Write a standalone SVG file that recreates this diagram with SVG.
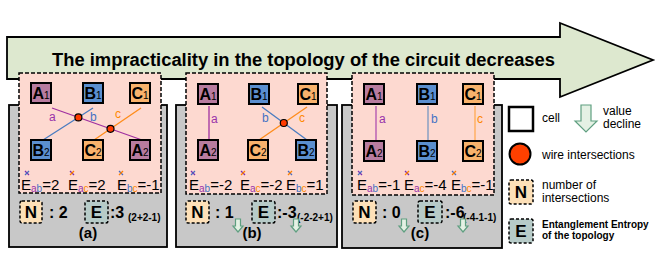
<svg xmlns="http://www.w3.org/2000/svg" width="657" height="264" viewBox="0 0 657 264">
<style>
text{font-family:"Liberation Sans",Arial,sans-serif;fill:#000}
.gray{fill:#c8c8c8;stroke:#000;stroke-width:1.8}
.pink{fill:#fdd9d0;stroke:#000;stroke-width:1.5;stroke-dasharray:4 2}
.cell{stroke:#000;stroke-width:2}
.A{fill:#b87c9f}.B{fill:#5b8fcf}.C{fill:#f8b26c}
.cl{font-size:16px;font-weight:bold;text-anchor:middle}
.cl tspan{font-size:10px;font-weight:normal}
.wa{stroke:#a030a0;stroke-width:1.3}.wb{stroke:#4a7cc0;stroke-width:1.3}.wc{stroke:#ff8c1a;stroke-width:1.3}
.dot{fill:#ff3b00;stroke:#000;stroke-width:1.2}
.wl{font-size:12px}
.e{font-size:15px}
.e tspan.s{font-size:10px}
.ca{fill:#9933aa}.cb{fill:#4472c4}.cc{fill:#ff8800}
.xa{stroke:#7a30b0;stroke-width:1.2}.xb{stroke:#4a6cc0;stroke-width:1.2}.xc{stroke:#ff8000;stroke-width:1.2}
.nb{fill:#fde0b8;stroke:#000;stroke-width:1.5;stroke-dasharray:3 2}
.eb{fill:#b7cbc8;stroke:#000;stroke-width:1.5;stroke-dasharray:3 2}
.bl{font-size:17px;font-weight:bold;text-anchor:middle}
.val{font-size:16px;font-weight:bold}
.sm{font-size:10px;font-weight:bold}
.lab{font-size:15px;font-weight:bold;text-anchor:middle}
.dn{fill:#e4f1e4;stroke:#5f9f80;stroke-width:1.2}
.lg{font-size:12px}
</style>

<g id="arrow">
<path d="M7,37 H560 V23 L653,60 L560,97 V79 H7 Z" fill="#dde8cf" stroke="#000" stroke-width="1.8"/>
<text x="52" y="66" font-size="18" font-weight="bold" textLength="503" lengthAdjust="spacingAndGlyphs">The impracticality in the topology of the circuit decreases</text>
</g>

<g id="panel-a">
<rect class="gray" x="9" y="105" width="158" height="142"/>
<rect class="pink" x="19" y="73" width="142" height="120"/>
<g class="connectors">
<line class="wa" x1="52" y1="108" x2="142" y2="140"/>
<line class="wb" x1="93" y1="108" x2="43" y2="140"/>
<line class="wc" x1="141" y1="108" x2="94" y2="140"/>
</g>
<rect class="cell A" x="31" y="83" width="20" height="20"/><text class="cl" x="41" y="99">A<tspan>1</tspan></text>
<rect class="cell B" x="83" y="83" width="20" height="20"/><text class="cl" x="93" y="99">B<tspan>1</tspan></text>
<rect class="cell C" x="130" y="83" width="20" height="20"/><text class="cl" x="140" y="99">C<tspan>1</tspan></text>
<rect class="cell B" x="31" y="140" width="20" height="20"/><text class="cl" x="41" y="156">B<tspan>2</tspan></text>
<rect class="cell C" x="83" y="140" width="20" height="20"/><text class="cl" x="93" y="156">C<tspan>2</tspan></text>
<rect class="cell A" x="130" y="140" width="20" height="20"/><text class="cl" x="140" y="156">A<tspan>2</tspan></text>
<circle class="dot" cx="78.4" cy="117.4" r="3.5"/>
<circle class="dot" cx="110.5" cy="128.8" r="3.5"/>
<text class="wl ca" x="49" y="121">a</text>
<text class="wl cb" x="90" y="121">b</text>
<text class="wl cc" x="115" y="118">c</text>
<line class="xa" x1="25" y1="171" x2="29" y2="175"/><line class="xb" x1="29" y1="171" x2="25" y2="175"/>
<line class="xa" x1="70" y1="171" x2="74" y2="175"/><line class="xc" x1="74" y1="171" x2="70" y2="175"/>
<line class="xb" x1="119" y1="171" x2="123" y2="175"/><line class="xc" x1="123" y1="171" x2="119" y2="175"/>
<text class="e" x="21" y="190">E<tspan class="s ca" dy="2">a</tspan><tspan class="s cb">b</tspan><tspan dy="-2">=2</tspan></text>
<text class="e" x="68" y="190">E<tspan class="s ca" dy="2">a</tspan><tspan class="s cc">c</tspan><tspan dy="-2">=2</tspan></text>
<text class="e" x="117" y="190">E<tspan class="s cb" dy="2">b</tspan><tspan class="s cc">c</tspan><tspan dy="-2">=-1</tspan></text>
<rect class="nb" x="20" y="201" width="22" height="22" rx="2"/><text class="bl" x="31" y="218">N</text>
<text class="val" x="49" y="218">: 2</text>
<rect class="eb" x="85" y="201" width="23" height="22" rx="2"/><text class="bl" x="96.5" y="218">E</text>
<text class="val" x="110" y="218">:3</text><text class="sm" x="128" y="221">(2+2-1)</text>
<text class="lab" x="88" y="238">(a)</text>
</g>

<g id="panel-b">
<rect class="gray" x="176" y="105" width="161" height="142"/>
<rect class="pink" x="186" y="73" width="141" height="121"/>
<g class="connectors">
<line class="wa" x1="209" y1="106" x2="209" y2="140"/>
<line class="wb" x1="262" y1="107" x2="307" y2="140"/>
<line class="wc" x1="307" y1="107" x2="259" y2="140"/>
</g>
<rect class="cell A" x="198" y="84" width="20" height="20"/><text class="cl" x="208" y="100">A<tspan>1</tspan></text>
<rect class="cell B" x="249" y="84" width="20" height="20"/><text class="cl" x="259" y="100">B<tspan>1</tspan></text>
<rect class="cell C" x="298" y="84" width="20" height="20"/><text class="cl" x="308" y="100">C<tspan>1</tspan></text>
<rect class="cell A" x="198" y="140" width="20" height="20"/><text class="cl" x="208" y="156">A<tspan>2</tspan></text>
<rect class="cell C" x="248" y="140" width="20" height="20"/><text class="cl" x="258" y="156">C<tspan>2</tspan></text>
<rect class="cell B" x="296" y="140" width="20" height="20"/><text class="cl" x="306" y="156">B<tspan>2</tspan></text>
<circle class="dot" cx="283.8" cy="123" r="3.5"/>
<text class="wl ca" x="211" y="123">a</text>
<text class="wl cb" x="262" y="122">b</text>
<text class="wl cc" x="299" y="122">c</text>
<line class="xa" x1="191" y1="171" x2="195" y2="175"/><line class="xb" x1="195" y1="171" x2="191" y2="175"/>
<line class="xa" x1="241" y1="171" x2="245" y2="175"/><line class="xc" x1="245" y1="171" x2="241" y2="175"/>
<line class="xb" x1="288" y1="171" x2="292" y2="175"/><line class="xc" x1="292" y1="171" x2="288" y2="175"/>
<text class="e" x="189" y="190">E<tspan class="s ca" dy="2">a</tspan><tspan class="s cb">b</tspan><tspan dy="-2">=-2</tspan></text>
<text class="e" x="240" y="190">E<tspan class="s ca" dy="2">a</tspan><tspan class="s cc">c</tspan><tspan dy="-2">=-2</tspan></text>
<text class="e" x="286" y="190">E<tspan class="s cb" dy="2">b</tspan><tspan class="s cc">c</tspan><tspan dy="-2">=1</tspan></text>
<rect class="nb" x="186" y="201" width="23" height="22" rx="2"/><text class="bl" x="197.5" y="218">N</text>
<text class="val" x="215" y="218">: 1</text>
<rect class="eb" x="252" y="201" width="23" height="22" rx="2"/><text class="bl" x="263.5" y="218">E</text>
<text class="val" x="277" y="218">:-3</text><text class="sm" x="297" y="221">(-2-2+1)</text>
<path class="dn" d="M235.5,219 h5 v7 h2.5 l-5,6 l-5,-6 h2.5 z"/>
<path class="dn" d="M293.5,219 h5 v7 h2.5 l-5,6 l-5,-6 h2.5 z"/>
<text class="lab" x="252" y="238">(b)</text>
</g>

<g id="panel-c">
<rect class="gray" x="342" y="105" width="160" height="143"/>
<rect class="pink" x="352" y="73" width="142" height="122"/>
<g class="connectors">
<line stroke="#b050b0" stroke-width="1.3" x1="376" y1="106" x2="376" y2="141"/>
<line stroke="#90a4c4" stroke-width="1.6" x1="428" y1="106" x2="428" y2="141"/>
<line stroke="#ffad5c" stroke-width="1.4" x1="475" y1="106" x2="475" y2="141"/>
</g>
<rect class="cell A" x="364" y="84" width="20" height="20"/><text class="cl" x="374" y="100">A<tspan>1</tspan></text>
<rect class="cell B" x="417" y="84" width="20" height="20"/><text class="cl" x="427" y="100">B<tspan>1</tspan></text>
<rect class="cell C" x="463" y="84" width="20" height="20"/><text class="cl" x="473" y="100">C<tspan>1</tspan></text>
<rect class="cell A" x="364" y="141" width="20" height="20"/><text class="cl" x="374" y="157">A<tspan>2</tspan></text>
<rect class="cell B" x="417" y="141" width="20" height="20"/><text class="cl" x="427" y="157">B<tspan>2</tspan></text>
<rect class="cell C" x="463" y="141" width="20" height="20"/><text class="cl" x="473" y="157">C<tspan>2</tspan></text>
<text class="wl ca" x="379" y="123">a</text>
<text class="wl cb" x="431" y="123">b</text>
<text class="wl cc" x="477" y="123">c</text>
<line class="xa" x1="358" y1="171" x2="362" y2="175"/><line class="xb" x1="362" y1="171" x2="358" y2="175"/>
<line class="xa" x1="405" y1="171" x2="409" y2="175"/><line class="xc" x1="409" y1="171" x2="405" y2="175"/>
<line class="xb" x1="452" y1="171" x2="456" y2="175"/><line class="xc" x1="456" y1="171" x2="452" y2="175"/>
<text class="e" x="357" y="190">E<tspan class="s ca" dy="2">a</tspan><tspan class="s cb">b</tspan><tspan dy="-2">=-1</tspan></text>
<text class="e" x="404" y="190">E<tspan class="s ca" dy="2">a</tspan><tspan class="s cc">c</tspan><tspan dy="-2">=-4</tspan></text>
<text class="e" x="451" y="190">E<tspan class="s cb" dy="2">b</tspan><tspan class="s cc">c</tspan><tspan dy="-2">=-1</tspan></text>
<rect class="nb" x="353" y="201" width="23" height="22" rx="2"/><text class="bl" x="364.5" y="218">N</text>
<text class="val" x="382" y="218">: 0</text>
<rect class="eb" x="418" y="201" width="24" height="22" rx="2"/><text class="bl" x="430" y="218">E</text>
<text class="val" x="445" y="218">:-6</text><text class="sm" x="463" y="221">(-4-1-1)</text>
<path class="dn" d="M401.5,219 h5 v7 h2.5 l-5,6 l-5,-6 h2.5 z"/>
<path class="dn" d="M460.5,219 h5 v7 h2.5 l-5,6 l-5,-6 h2.5 z"/>
<text class="lab" x="420" y="238">(c)</text>
</g>

<g id="legend">
<rect x="509" y="107" width="24" height="24" fill="#fff" stroke="#000" stroke-width="2.5"/>
<text class="lg" x="542" y="122">cell</text>
<path class="dn" d="M581,105 H591 V121 H597 L586,132 L575,121 H581 Z"/>
<text class="lg" x="603" y="115">value</text>
<text class="lg" x="603" y="128">decline</text>
<circle cx="520" cy="154" r="10.5" fill="#ff4000" stroke="#000" stroke-width="2"/>
<text class="lg" x="542" y="159">wire intersections</text>
<rect class="nb" x="509" y="180" width="24" height="24" rx="2"/><text class="bl" x="521" y="198">N</text>
<text class="lg" x="542" y="189">number of</text>
<text class="lg" x="542" y="202">intersections</text>
<rect class="eb" x="509" y="219" width="24" height="24" rx="2"/><text class="bl" x="521" y="237">E</text>
<text x="542" y="228" font-size="10" font-weight="bold">Entanglement Entropy</text>
<text x="542" y="239" font-size="10" font-weight="bold">of the topology</text>
</g>
</svg>
